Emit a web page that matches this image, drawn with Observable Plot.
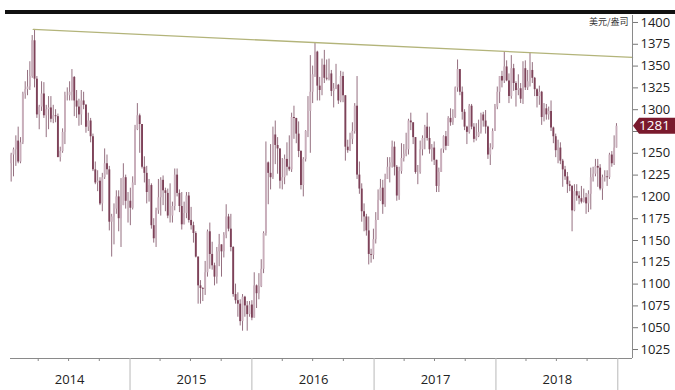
<!DOCTYPE html>
<html><head><meta charset="utf-8">
<script src="https://cdn.jsdelivr.net/npm/d3@7"></script>
<script src="https://cdn.jsdelivr.net/npm/@observablehq/plot@0.6"></script>
<style>
body{margin:0;background:#fff;}
#wrap{position:relative;width:675px;height:390px;overflow:hidden;background:#fff;}
#wrap svg{position:absolute;left:0;top:0;}
#band{position:absolute;left:5px;top:10px;width:670px;height:4px;background:#111;z-index:2;}
</style></head><body>
<div id="wrap"><div id="band"></div></div>
<script>
// Weekly gold OHLC (USD/oz), weeks ending Friday, 2014-01-10 .. 2018-12-28
const firstWeek = "2014-01-10";
const lastWeek = "2018-12-28";
const opens = [
1238,1248,1254,1264,1240,1262,1318,1323,1326,1338,1379,1335,1294,1303,1318,1293,1300,1302,1289,1293,1292,1245,1252,1274,1316,1316,1320,1337,1310,1303,1294,1310,1305,1280,1287,1269,1231,1216,1218,1192,1222,1238,1231,1171,1177,1186,1200,1175,1190,1222,1195,
1195,1187,1216,1277,1293,1283,1234,1227,1205,1213,1167,1152,1184,1199,1219,1207,1204,1178,1178,1189,1225,1204,1189,1168,1181,1201,1173,1167,1158,1131,1098,1095,1094,1113,1160,1134,1121,1108,1137,1145,1137,1156,1177,1163,1142,1088,1081,1077,1057,1085,1075,1065,
1076,1061,1098,1089,1097,1117,1158,1239,1227,1222,1271,1259,1255,1218,1222,1243,1234,1231,1291,1290,1272,1252,1213,1243,1275,1298,1320,1340,1366,1327,1322,1351,1336,1335,1341,1321,1324,1328,1310,1338,1316,1257,1253,1266,1275,1304,1225,1209,1183,1177,1161,1134,1133,
1151,1173,1196,1210,1191,1220,1234,1239,1257,1234,1201,1229,1244,1249,1254,1287,1285,1268,1228,1228,1254,1267,1280,1267,1254,1256,1242,1212,1228,1254,1269,1258,1290,1285,1291,1325,1346,1320,1297,1280,1274,1304,1280,1266,1269,1274,1294,1287,1280,1248,1256,1275,
1303,1320,1338,1333,1349,1333,1315,1347,1330,1322,1324,1312,1347,1325,1332,1345,1336,1323,1315,1320,1291,1301,1294,1298,1279,1269,1253,1256,1241,1231,1223,1214,1212,1184,1206,1201,1198,1194,1199,1192,1203,1222,1226,1235,1233,1209,1222,1223,1222,1248,1238,1256
];
const highs = [
1250,1256,1270,1280,1268,1320,1332,1345,1355,1385,1392,1338,1305,1332,1331,1305,1315,1315,1305,1300,1295,1257,1278,1320,1325,1332,1346,1338,1322,1312,1322,1320,1306,1296,1290,1272,1240,1230,1222,1227,1255,1248,1235,1180,1192,1207,1207,1221,1238,1225,1205,
1210,1223,1282,1307,1295,1283,1246,1235,1220,1215,1175,1187,1220,1222,1224,1210,1209,1215,1194,1232,1232,1208,1205,1194,1205,1205,1188,1171,1160,1131,1104,1096,1126,1162,1170,1148,1124,1142,1157,1145,1159,1191,1180,1180,1143,1100,1090,1082,1088,1086,1080,1080,
1081,1113,1099,1112,1128,1160,1263,1240,1260,1280,1287,1268,1255,1244,1248,1262,1270,1296,1304,1290,1286,1253,1245,1276,1315,1362,1350,1377,1367,1337,1358,1368,1357,1358,1345,1330,1352,1329,1344,1343,1316,1265,1273,1285,1307,1338,1240,1215,1192,1180,1177,1140,1163,
1182,1208,1220,1219,1226,1245,1245,1264,1263,1236,1234,1261,1260,1273,1289,1296,1285,1268,1236,1264,1270,1282,1296,1280,1260,1263,1242,1233,1255,1270,1275,1292,1301,1300,1326,1357,1346,1326,1300,1281,1306,1306,1284,1284,1288,1296,1297,1299,1281,1261,1278,1306,
1326,1338,1344,1366,1356,1341,1362,1352,1332,1340,1330,1355,1356,1345,1365,1354,1337,1324,1327,1321,1307,1306,1303,1310,1280,1272,1265,1262,1243,1235,1228,1218,1213,1214,1214,1206,1212,1209,1204,1207,1233,1234,1243,1243,1237,1225,1230,1230,1250,1252,1270,1284
];
const lows = [
1217,1223,1235,1238,1238,1260,1312,1316,1322,1336,1325,1290,1277,1298,1290,1268,1277,1285,1284,1285,1246,1240,1250,1260,1310,1310,1310,1292,1290,1281,1282,1300,1273,1275,1262,1229,1214,1206,1190,1183,1220,1225,1161,1131,1145,1180,1160,1142,1190,1186,1170,
1167,1185,1213,1276,1250,1232,1216,1192,1194,1163,1147,1142,1180,1178,1190,1183,1175,1170,1170,1184,1200,1182,1162,1168,1175,1170,1162,1147,1130,1077,1077,1080,1087,1108,1117,1116,1098,1100,1120,1108,1130,1152,1160,1137,1085,1077,1062,1052,1046,1062,1046,1062,
1058,1061,1072,1082,1096,1112,1155,1191,1208,1220,1237,1226,1209,1208,1214,1224,1229,1228,1266,1261,1245,1208,1200,1240,1268,1250,1307,1337,1310,1310,1316,1330,1333,1333,1315,1302,1323,1306,1308,1308,1241,1250,1252,1260,1272,1220,1203,1171,1160,1155,1122,1124,1128,
1146,1173,1195,1180,1188,1220,1216,1233,1224,1195,1196,1226,1240,1246,1248,1276,1260,1226,1214,1226,1247,1254,1264,1249,1240,1236,1205,1205,1228,1250,1253,1258,1281,1282,1290,1320,1316,1288,1276,1260,1272,1277,1262,1264,1268,1272,1280,1272,1243,1236,1254,1275,
1300,1307,1325,1330,1332,1307,1312,1321,1303,1316,1307,1306,1322,1322,1326,1330,1315,1302,1305,1282,1286,1288,1288,1275,1261,1245,1238,1237,1211,1219,1204,1206,1160,1183,1195,1191,1192,1193,1180,1182,1185,1217,1223,1211,1207,1196,1217,1212,1220,1234,1236,1256
];
const closes = [
1248,1254,1264,1240,1262,1318,1323,1326,1338,1379,1335,1294,1303,1318,1293,1300,1302,1289,1293,1292,1245,1252,1274,1316,1316,1320,1337,1310,1303,1294,1310,1305,1280,1287,1269,1231,1216,1218,1192,1222,1238,1231,1171,1177,1186,1200,1175,1190,1222,1195,1195,
1187,1216,1277,1293,1283,1234,1227,1205,1213,1167,1152,1184,1199,1219,1207,1204,1178,1178,1189,1225,1204,1189,1168,1181,1201,1173,1167,1158,1131,1098,1095,1094,1113,1160,1134,1121,1108,1137,1145,1137,1156,1177,1163,1142,1088,1081,1077,1057,1085,1075,1065,1076,
1061,1098,1089,1097,1117,1158,1239,1227,1222,1271,1259,1255,1218,1222,1243,1234,1231,1291,1290,1272,1252,1213,1243,1275,1298,1320,1340,1366,1327,1322,1351,1336,1335,1341,1321,1324,1328,1310,1338,1316,1257,1253,1266,1275,1304,1225,1209,1183,1177,1161,1134,1133,1151,
1173,1196,1210,1191,1220,1234,1239,1257,1234,1201,1229,1244,1249,1254,1287,1285,1268,1228,1228,1254,1267,1280,1267,1254,1256,1242,1212,1228,1254,1269,1258,1290,1285,1291,1325,1346,1320,1297,1280,1274,1304,1280,1266,1269,1274,1294,1287,1280,1248,1256,1275,1303,
1320,1338,1333,1349,1333,1315,1347,1330,1322,1324,1312,1347,1325,1332,1345,1336,1323,1315,1320,1291,1301,1294,1298,1279,1269,1253,1256,1241,1231,1223,1214,1212,1184,1206,1201,1198,1194,1199,1192,1203,1222,1226,1235,1233,1209,1222,1223,1222,1248,1238,1256,1281
];
const years = ["2014","2015","2016","2017","2018"];
const yTicks = [1025,1050,1075,1100,1125,1150,1175,1200,1225,1250,1275,1300,1325,1350,1375,1400];
const trendDates = ["2014-03-17","2019-02-14"];
const trendValues = [1392,1360];
const lastValue = 1281;
const unitLabel = "美元/盎司";

const xDomain = [new Date("2014-01-08"), new Date("2019-02-14")];
const yDomain = [1014.7, 1408];

const dates = d3.utcFriday.range(new Date(firstWeek), d3.utcDay.offset(new Date(lastWeek), 1));
const bars = dates.map((d, i) => ({date: d, open: opens[i], high: highs[i], low: lows[i], close: closes[i]}));
const trend = trendDates.map((d, i) => ({date: new Date(d), value: trendValues[i]}));
const yearStarts = years.slice(1).map(y => new Date(`${y}-01-01`)).concat([new Date(`${+years[years.length-1]+1}-01-01`)]);
const quarters = d3.utcMonth.every(3).range(xDomain[0], xDomain[1]).filter(d => d.getUTCMonth() !== 0);
const midYears = years.map(y => new Date(`${y}-07-04`));
// the 1275 label sits behind the last-value marker
const hiddenTick = 1275;

const chart = Plot.plot({
  width: 675, height: 390,
  marginLeft: 10, marginRight: 43, marginTop: 15, marginBottom: 32,
  style: {fontFamily: "'Open Sans', 'Noto Sans', sans-serif", background: "transparent", color: "#222"},
  x: {type: "utc", domain: xDomain, axis: null},
  y: {domain: yDomain, axis: null},
  marks: [
    Plot.ruleX(bars, {x: "date", y1: "low", y2: "high", stroke: "#957080", strokeWidth: 1}),
    Plot.ruleX(bars, {x: "date", y1: "open", y2: "close", stroke: d => d.close >= d.open ? "#c9aebb" : "#7e4259", strokeWidth: 1.9}),
    Plot.line(trend, {x: "date", y: "value", stroke: "#b3b47a", strokeWidth: 1.3}),
    Plot.ruleY([yDomain[0]], {stroke: "#8a8a8a"}),
    Plot.ruleX([xDomain[1]], {stroke: "#8a8a8a"}),
    Plot.text([unitLabel], {x: xDomain[1], y: yTicks[yTicks.length-1], text: d => d, textAnchor: "end", dx: -4, fontSize: 9, fill: "#333", fontFamily: "'Noto Sans CJK SC', sans-serif"}),
    Plot.axisY(yTicks, {anchor: "right", tickSize: 5, tickPadding: 3, fontSize: 13, stroke: "#777", fill: "#222", tickFormat: d => d === hiddenTick ? "" : String(d)}),
    Plot.axisX(quarters, {anchor: "bottom", tickSize: 3, stroke: "#888", tickFormat: () => ""}),
    Plot.axisX(yearStarts, {anchor: "bottom", tickSize: 32, stroke: "#b8b8b8", tickFormat: () => ""}),
    Plot.axisX(midYears, {anchor: "bottom", tickSize: 0, tickPadding: 16, fontSize: 13, fill: "#222", tickFormat: d => String(d.getUTCFullYear())})
  ]
});

// last-value marker on the right axis
const ys = chart.scale("y");
const xs = chart.scale("x");
const yy = ys.apply(lastValue);
const xr = xs.range[1];
const g = d3.select(chart).append("g");
g.append("path")
  .attr("d", `M${xr + 1},${yy} L${xr + 7},${yy - 8} L675,${yy - 8} L675,${yy + 8} L${xr + 7},${yy + 8} Z`)
  .attr("fill", "#7a1a2d");
g.append("text")
  .attr("x", xr + 7).attr("y", yy).attr("dy", "0.35em")
  .attr("text-anchor", "start")
  .attr("fill", "#fff").attr("font-size", 13.5)
  .attr("font-family", "'Open Sans', sans-serif")
  .text(lastValue);

document.getElementById("wrap").appendChild(chart);
</script>
</body></html>
